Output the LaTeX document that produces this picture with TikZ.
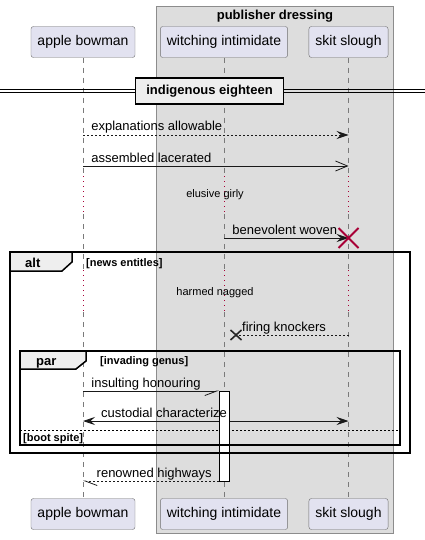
\documentclass[tikz,border=0pt]{standalone}
\usepackage{fontspec}
\setmainfont{Liberation Sans}
\usetikzlibrary{arrows.meta,calc}

\definecolor{actorfill}{HTML}{E2E2F0}
\definecolor{actorline}{HTML}{6E6E6E}
\definecolor{groupfill}{HTML}{DDDDDD}
\definecolor{groupline}{HTML}{8C8C8C}
\definecolor{lifecol}{HTML}{7A7A7A}
\definecolor{delaycol}{HTML}{A80036}
\definecolor{tabfill}{HTML}{EEEEEE}

\tikzset{
	actorbox/.style={draw=actorline, fill=actorfill, rounded corners=2.5pt, minimum height=31pt, inner xsep=6.5pt, font=\fontsize{14}{16}\selectfont},
	lifeline/.style={draw=lifecol, line width=0.6pt, dash pattern=on 5pt off 5pt},
	delayline/.style={draw=delaycol, line width=0.7pt, dash pattern=on 1pt off 4pt},
	msg/.style={line width=0.8pt, draw=black!90},
	reply/.style={msg, dash pattern=on 2pt off 2pt},
	msglabel/.style={font=\fontsize{13}{15}\selectfont, inner sep=0pt, anchor=base west},
	delaytext/.style={font=\fontsize{11}{13}\selectfont, inner sep=0pt},
	framebox/.style={draw=black, line width=1.5pt},
	frametab/.style={draw=black, fill=tabfill, line width=1.5pt},
	framelabel/.style={font=\bfseries\fontsize{13}{15}\selectfont, inner sep=0pt, anchor=base west},
	guardlabel/.style={font=\bfseries\fontsize{11}{13}\selectfont, inner sep=0pt, anchor=base west},
	full/.tip={Stealth[length=12pt, width=8pt, inset=4.5pt]},
	open/.tip={Straight Barb[length=12pt, width=10pt]},
	halfdown/.tip={Straight Barb[length=12pt, width=9pt, harpoon, swap]},
	halfup/.tip={Straight Barb[length=12pt, width=9pt, harpoon]},
}

\begin{document}
\begin{tikzpicture}[x=1pt, y=-1pt]
	\useasboundingbox (0,0) rectangle (425,540);

	% box round the two participants on the right
	\draw[groupline, fill=groupfill] (156,6) rectangle (393,533);
	\node[font=\bfseries\fontsize{13}{15}\selectfont, inner sep=0pt, anchor=base] (grp) at (275,20) {publisher dressing};

	% participants
	\node[actorbox] (ab) at (83,42) {apple bowman};
	\node[actorbox] (wi) at (224,42) {witching intimidate};
	\node[actorbox] (ss) at (348.5,42) {skit slough};
	\node[actorbox] (ab2) at (83,514) {apple bowman};
	\node[actorbox] (wi2) at (224,514) {witching intimidate};
	\node[actorbox] (ss2) at (348.5,514) {skit slough};

	% rows
	\coordinate (d1a) at (0,176);
	\coordinate (d1b) at (0,214);
	\coordinate (d2a) at (0,270);
	\coordinate (d2b) at (0,312);
	\coordinate (m1) at (0,135);
	\coordinate (m2) at (0,166);
	\coordinate (m3) at (0,238);
	\coordinate (m4) at (0,335);
	\coordinate (m5) at (0,391);
	\coordinate (m6) at (0,421);
	\coordinate (m7) at (0,481);

	% lifelines
	\foreach \p in {ab,wi,ss} {
		\draw[lifeline] (\p.south) -- (\p |- d1a);
		\draw[delayline] (\p |- d1a) -- (\p |- d1b);
		\draw[lifeline] (\p |- d1b) -- (\p |- d2a);
		\draw[delayline] (\p |- d2a) -- (\p |- d2b);
		\draw[lifeline] (\p |- d2b) -- (\p2.north);
	}

	% divider
	\draw[line width=0.8pt] (0,89.5) -- (425,89.5);
	\draw[line width=0.8pt] (0,92.5) -- (425,92.5);
	\node[draw=black, fill=tabfill, line width=1.5pt, minimum width=148pt, minimum height=26pt, inner sep=0pt, font=\bfseries\fontsize{13}{15}\selectfont] (div) at (209.5,91) {indigenous eighteen};

	% messages
	\draw[reply, -{full}] (ab |- m1) node[msglabel, xshift=8pt, yshift=4pt] {explanations allowable} -- (ss |- m1);
	\draw[msg, -{open}] (ab |- m2) node[msglabel, xshift=8pt, yshift=4pt] {assembled lacerated} -- (ss |- m2);
	\node[delaytext] (dl1) at (215,195) {elusive girly};
	\draw[msg, -{full}] (wi |- m3) node[msglabel, xshift=8pt, yshift=4pt] {benevolent woven} -- (ss |- m3);
	\draw[delaycol, line width=1.8pt] ($(ss |- m3)+(-10,-10)$) -- +(20,20) ($(ss |- m3)+(-10,10)$) -- +(20,-20);

	% alt
	\node[delaytext] (dl2) at (215,293) {harmed nagged};
	\coordinate (lost) at ([xshift=12.5pt]wi |- m4);
	\draw[reply] (ss |- m4) -- (lost);
	\node[msglabel] (fk) at ([xshift=18pt, yshift=4pt]wi |- m4) {firing knockers};
	\draw[black!85, line width=1.6pt] ($(lost)+(-6,-5)$) -- +(11,10) ($(lost)+(-6,5)$) -- +(11,-10);

	% par
	\coordinate (actin) at ([xshift=-5pt]wi |- m5);
	\coordinate (actout) at ([xshift=-5pt]wi |- m7);
	\draw[msg, -{halfdown}] (ab |- m5) node[msglabel, xshift=8pt, yshift=4pt] {insulting honouring} -- (actin);
	\draw[msg, {full}-{full}] (ab |- m6) -- (ss |- m6);
	\draw[dash pattern=on 2pt off 2pt, line width=0.8pt] (20,430) -- (400,430);
	\node[draw=black, fill=white, line width=0.8pt, minimum width=10pt, minimum height=90pt, inner sep=0pt, anchor=north] (act) at (wi |- m5) {};
	\node[msglabel] (cc) at ([xshift=18pt, yshift=4pt]ab |- m6) {custodial characterize};

	\draw[framebox] (10,252) rectangle (410,453);
	\draw[frametab] (10,252) -- ++(62,0) -- ++(0,10) -- ++(-10,9) -- ++(-52,0) -- cycle;
	\node[framelabel] (alt) at (25,267) {alt};
	\node[guardlabel] (g1) at (86,266) {[news entitles]};
	\draw[framebox] (20,351) rectangle (400,445);
	\draw[frametab] (20,351) -- ++(66,0) -- ++(0,10) -- ++(-10,8) -- ++(-56,0) -- cycle;
	\node[framelabel] (par) at (36,365) {par};
	\node[guardlabel] (g2) at (100,364) {[invading genus]};
	\node[guardlabel] (g3) at (23,441) {[boot spite]};

	\draw[reply, -{halfup}] (actout) node[msglabel, anchor=base east, xshift=-7pt, yshift=4pt] {renowned highways} -- (ab |- m7);
\end{tikzpicture}
\end{document}
